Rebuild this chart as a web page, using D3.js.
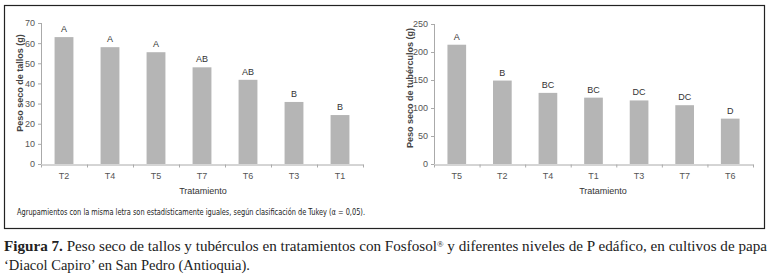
<!DOCTYPE html>
<html>
<head>
<meta charset="utf-8">
<script src="https://cdn.jsdelivr.net/npm/d3@7"></script>
<style>
  body { margin: 0; background: #fff; }
  svg { display: block; }
  .axis path, .axis line { stroke: #aaa; }
  .axis text { fill: #555; font-family: "Liberation Sans", Arial, sans-serif; font-size: 9px; }
</style>
</head>
<body>
<svg id="drawing_region"></svg>
<script>
// tallos
const stemCats = ['T2', 'T4', 'T5', 'T7', 'T6', 'T3', 'T1'];
const stemValues = [63, 58, 55.5, 48, 41.8, 30.8, 24.3];
const stemLetters = ['A', 'A', 'A', 'AB', 'AB', 'B', 'B'];
const stemTicks = [0, 10, 20, 30, 40, 50, 60, 70];

// tubérculos
const tuberCats = ['T5', 'T2', 'T4', 'T1', 'T3', 'T7', 'T6'];
const tuberValues = [213, 149, 127, 118.5, 113.5, 105, 81];
const tuberLetters = ['A', 'B', 'BC', 'BC', 'DC', 'DC', 'D'];
const tuberTicks = [0, 50, 100, 150, 200, 250];

const svg = d3.select('#drawing_region')
    .attr('width', 771)
    .attr('height', 278);

// frame
svg.append('rect')
    .attr('x', 4.5).attr('y', 5.5)
    .attr('width', 760).attr('height', 223)
    .attr('fill', 'none')
    .attr('stroke', '#222')
    .attr('stroke-width', 1.2);

function drawChart(cfg) {
    const g = svg.append('g');

    const xscale = d3.scaleBand()
        .domain(cfg.cats)
        .range([cfg.x0, cfg.x1])
        .paddingInner(0.59)
        .paddingOuter(0.295);

    const yscale = d3.scaleLinear()
        .domain([0, cfg.max])
        .range([cfg.y0, cfg.y1]);

    // bars
    g.selectAll('rect.bar')
        .data(cfg.values)
        .join('rect')
        .attr('class', 'bar')
        .attr('x', (d, i) => xscale(cfg.cats[i]))
        .attr('y', d => yscale(d))
        .attr('width', xscale.bandwidth())
        .attr('height', d => yscale(0) - yscale(d))
        .attr('fill', '#b5b5b5');

    // letters
    g.selectAll('text.letter')
        .data(cfg.values)
        .join('text')
        .attr('class', 'letter')
        .attr('x', (d, i) => xscale(cfg.cats[i]) + xscale.bandwidth() / 2)
        .attr('y', d => yscale(d) - 5)
        .attr('text-anchor', 'middle')
        .style('font-family', '"Liberation Sans", Arial, sans-serif')
        .style('font-size', '9px')
        .style('fill', '#333')
        .text((d, i) => cfg.letters[i]);

    // y axis
    const yaxis = d3.axisLeft(yscale)
        .tickValues(cfg.ticks)
        .tickSize(3)
        .tickSizeOuter(0);
    g.append('g')
        .attr('class', 'axis')
        .attr('transform', `translate(${cfg.x0}, 0)`)
        .call(yaxis)
        .call(a => a.select('.domain').attr('d', `M0.5,${cfg.y0}V${cfg.y1}`));

    // x axis: category labels
    const xaxis = d3.axisBottom(xscale).tickSize(0).tickPadding(9);
    g.append('g')
        .attr('class', 'axis')
        .attr('transform', `translate(0, ${cfg.y0})`)
        .call(xaxis)
        .call(a => a.select('.domain').remove());

    // x axis: boundary ticks
    const bscale = d3.scaleLinear().domain([0, cfg.cats.length]).range([cfg.x0, cfg.x1]);
    g.append('g')
        .attr('class', 'axis')
        .attr('transform', `translate(0, ${cfg.y0 + 0.5})`)
        .call(d3.axisBottom(bscale).ticks(cfg.cats.length).tickSize(3).tickSizeOuter(0).tickFormat(''));

    // y title
    g.append('text')
        .attr('transform', `rotate(-90)`)
        .attr('x', -cfg.ytitleY)
        .attr('y', cfg.ytitleX)
        .attr('text-anchor', 'middle')
        .style('font-family', '"Liberation Sans", Arial, sans-serif')
        .style('font-size', '9px')
        .style('font-weight', 'bold')
        .style('fill', '#444')
        .text(cfg.ytitle);

    // x title
    g.append('text')
        .attr('x', cfg.xtitleX)
        .attr('y', 194)
        .attr('text-anchor', 'middle')
        .style('font-family', '"Liberation Sans", Arial, sans-serif')
        .style('font-size', '9px')
        .style('fill', '#333')
        .text('Tratamiento');
}

drawChart({
    cats: stemCats, values: stemValues, letters: stemLetters, ticks: stemTicks,
    max: 70, x0: 41, x1: 363, y0: 164, y1: 23,
    ytitle: 'Peso seco de tallos (g)', ytitleX: 23, ytitleY: 83, xtitleX: 203
});

drawChart({
    cats: tuberCats, values: tuberValues, letters: tuberLetters, ticks: tuberTicks,
    max: 250, x0: 434, x1: 753, y0: 164, y1: 24,
    ytitle: 'Peso seco de tubérculos (g)', ytitleX: 413, ytitleY: 88, xtitleX: 603
});

// footnote
svg.append('text')
    .attr('x', 17)
    .attr('y', 215)
    .attr('textLength', 348)
    .attr('lengthAdjust', 'spacingAndGlyphs')
    .style('font-family', '"Liberation Sans Narrow", "DejaVu Sans Condensed", sans-serif')
    .style('font-size', '9.5px')
    .style('fill', '#222')
    .text('Agrupamientos con la misma letra son estadísticamente iguales, según clasificación de Tukey (α = 0,05).');

// caption
const cap1 = svg.append('text')
    .attr('x', 4)
    .attr('y', 251)
    .attr('textLength', 763)
    .attr('lengthAdjust', 'spacingAndGlyphs')
    .style('font-family', '"Liberation Serif", "DejaVu Serif", serif')
    .style('font-size', '14px')
    .style('fill', '#222');
cap1.append('tspan').style('font-weight', 'bold').text('Figura 7.');
cap1.append('tspan').text(' Peso seco de tallos y tubérculos en tratamientos con Fosfosol');
cap1.append('tspan').attr('dy', -4).style('font-size', '8px').text('®');
cap1.append('tspan').attr('dy', 4).text(' y diferentes niveles de P edáfico, en cultivos de papa');

svg.append('text')
    .attr('x', 4)
    .attr('y', 270)
    .attr('textLength', 246)
    .attr('lengthAdjust', 'spacingAndGlyphs')
    .style('font-family', '"Liberation Serif", "DejaVu Serif", serif')
    .style('font-size', '14px')
    .style('fill', '#222')
    .text('‘Diacol Capiro’ en San Pedro (Antioquia).');
</script>
</body>
</html>
